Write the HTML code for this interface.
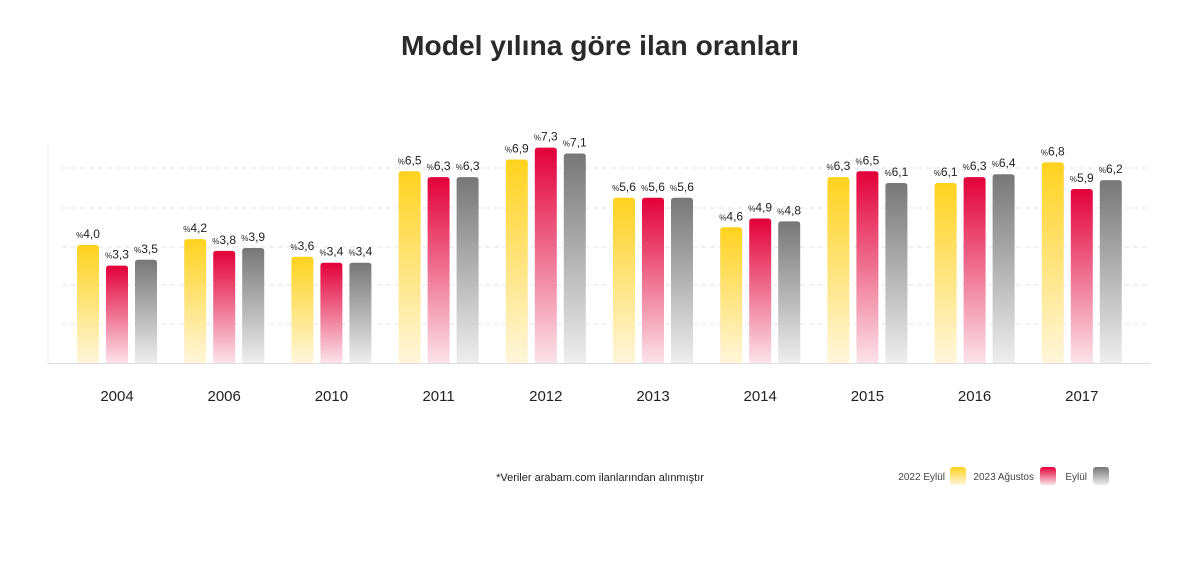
<!DOCTYPE html>
<html><head><meta charset="utf-8"><style>
body{margin:0;background:#fff;}
svg{display:block;font-family:"Liberation Sans",sans-serif;}
</style></head><body>
<svg id="s" width="1200" height="572" viewBox="0 0 1200 572" xmlns="http://www.w3.org/2000/svg">
<defs>
<linearGradient id="gy" x1="0" y1="0" x2="0" y2="1"><stop offset="0" stop-color="#FFD21E"/><stop offset="1" stop-color="#FFF6DC"/></linearGradient>
<linearGradient id="gr" x1="0" y1="0" x2="0" y2="1"><stop offset="0" stop-color="#E2003A"/><stop offset="1" stop-color="#FBE3EA"/></linearGradient>
<linearGradient id="gg" x1="0" y1="0" x2="0" y2="1"><stop offset="0" stop-color="#777"/><stop offset="1" stop-color="#EEE"/></linearGradient>
</defs>
<text x="600" y="55" text-anchor="middle" font-size="28" font-weight="bold" fill="#2a2a2a" textLength="398" lengthAdjust="spacingAndGlyphs">Model yılına göre ilan oranları</text>
<g stroke="#e6e6e6" stroke-width="1" stroke-dasharray="5,4">
<line x1="62" y1="168" x2="1150" y2="168"/><line x1="62" y1="208" x2="1150" y2="208"/>
<line x1="62" y1="247" x2="1150" y2="247"/><line x1="62" y1="285" x2="1150" y2="285"/>
<line x1="62" y1="324" x2="1150" y2="324"/>
</g>
<line x1="48" y1="145" x2="48" y2="363" stroke="#eee"/>
<line x1="48" y1="363.5" x2="1150" y2="363.5" stroke="#ddd"/>
<g id="bars"></g>
<text x="600" y="481" text-anchor="middle" font-size="11" fill="#222">*Veriler arabam.com ilanlarından alınmıştır</text>
<text x="945" y="480" text-anchor="end" font-size="10" fill="#444">2022 Eylül</text>
<rect x="950" y="467" width="16" height="18" rx="3" fill="url(#gy)"/>
<text x="1034" y="480" text-anchor="end" font-size="10" fill="#444">2023 Ağustos</text>
<rect x="1040" y="467" width="16" height="18" rx="3" fill="url(#gr)"/>
<text x="1087" y="480" text-anchor="end" font-size="10" fill="#444">Eylül</text>
<rect x="1093" y="467" width="16" height="18" rx="3" fill="url(#gg)"/>
</svg>
<script>
var d=[["2004",4.0,3.3,3.5],["2006",4.2,3.8,3.9],["2010",3.6,3.4,3.4],["2011",6.5,6.3,6.3],["2012",6.9,7.3,7.1],["2013",5.6,5.6,5.6],["2014",4.6,4.9,4.8],["2015",6.3,6.5,6.1],["2016",6.1,6.3,6.4],["2017",6.8,5.9,6.2]];
var g=document.getElementById("bars"),h="",f=["gy","gr","gg"];
d.forEach(function(r,i){var x0=77+107.2*i;
for(var k=0;k<3;k++){var v=r[k+1],x=x0+29*k,hh=v*29.5,y=363-hh;
h+='<path d="M'+x+' 363V'+(y+3)+'Q'+x+' '+y+' '+(x+3)+' '+y+'H'+(x+19)+'Q'+(x+22)+' '+y+' '+(x+22)+' '+(y+3)+'V363Z" fill="url(#'+f[k]+')"/>';
h+='<text x="'+(x+11)+'" y="'+(y-7)+'" text-anchor="middle" fill="#222"><tspan font-size="8">%</tspan><tspan font-size="12">'+v.toFixed(1).replace(".",",")+'</tspan></text>';}
h+='<text x="'+(x0+40)+'" y="401" text-anchor="middle" font-size="15" fill="#222">'+r[0]+'</text>';});
g.innerHTML=h;
</script>
</body></html>
